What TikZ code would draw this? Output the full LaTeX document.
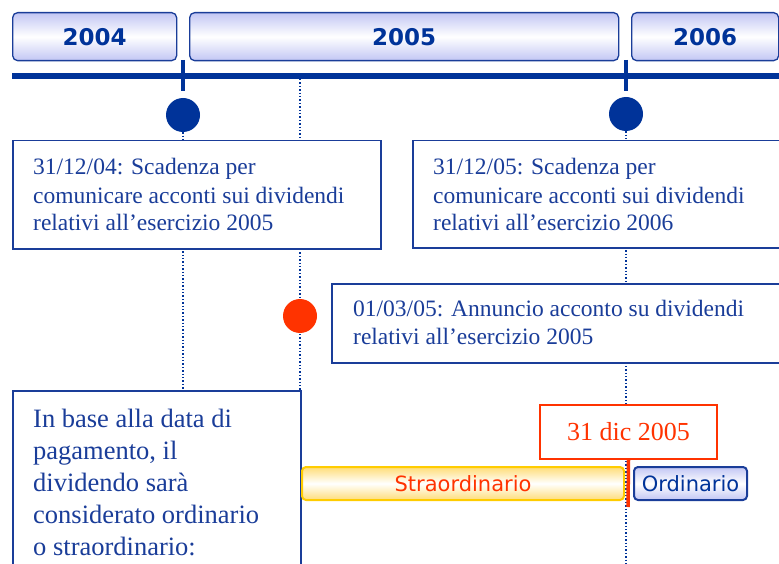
\documentclass[tikz,border=0pt]{standalone}
\usepackage{fontspec}
\setmainfont{Liberation Serif}
\newfontfamily\verd{DejaVu Sans}
\definecolor{navy}{HTML}{003399}
\definecolor{txtblue}{HTML}{1A3D99}
\definecolor{lav}{HTML}{C2C6F4}
\definecolor{redc}{HTML}{FF3300}
\definecolor{yel}{HTML}{FFCC00}
\definecolor{yelf}{HTML}{FFDD77}
\begin{document}
\begin{tikzpicture}[x=1pt,y=-1pt,
  yearbox/.style={draw=txtblue, line width=1.3, rounded corners=5, top color=lav, bottom color=lav, middle color=white,
    text=navy, font=\verd\bfseries\fontsize{23}{23}\selectfont, inner sep=0, anchor=north west},
  infobox/.style={draw=txtblue, line width=1.5, fill=white, inner sep=0, anchor=north west},
  infotext/.style={text=txtblue, font=\fontsize{23.5}{28}\selectfont, align=left, anchor=base west, inner sep=0},
  vline/.style={navy, line width=1.4, dash pattern=on 1.4pt off 2pt},
  bluedot/.style={circle, fill=navy, minimum size=34, inner sep=0},
  reddot/.style={circle, fill=redc, minimum size=34, inner sep=0},
  tick/.style={navy, line width=4},
  barlabel/.style={font=\verd\fontsize{21}{21}\selectfont, inner sep=0, anchor=north west}
]
\useasboundingbox (0,0) rectangle (779,564);
\clip (0,0) rectangle (779,564);

% year boxes
\node[yearbox, minimum width=164, minimum height=48] (y04) at (12,12) {2004};
\node[yearbox, minimum width=429, minimum height=48] (y05) at (189,12) {2005};
\node[yearbox, minimum width=147, minimum height=48] (y06) at (631,12) {2006};

% timeline
\coordinate (tlS) at (12,76);
\coordinate (tlE) at (790,76);
\draw[navy, line width=6] (tlS) -- (tlE);

% ticks
\coordinate (k1a) at (183,60); \coordinate (k1b) at (183,91);
\coordinate (k2a) at (626,60); \coordinate (k2b) at (626,91);
\draw[tick] (k1a) -- (k1b);
\draw[tick] (k2a) -- (k2b);

% dots (positions)
\node[bluedot] (d1) at (183,115) {};
\node[bluedot] (d2) at (626,114) {};

% dotted lines
\coordinate (v1e) at (183,390);
\coordinate (v2s) at (300,79);
\coordinate (v2e) at (300,570);
\coordinate (v3e) at (626,570);
\draw[vline] (d1) -- (v1e);
\draw[vline] (v2s) -- (v2e);
\draw[vline] (d2) -- (v3e);

% info boxes
\node[infobox, minimum width=368, minimum height=108] (b1) at (12,140) {};
\node[infotext] (t1) at (33,231) {31/12/04: Scadenza per\\comunicare acconti sui dividendi\\relativi all’esercizio 2005};

\node[infobox, minimum width=380, minimum height=107] (b2) at (412,140) {};
\node[infotext] (t2) at (433,231) {31/12/05: Scadenza per\\comunicare acconti sui dividendi\\relativi all’esercizio 2006};

\node[reddot] (d3) at (300,316) {};
\node[infobox, minimum width=460, minimum height=79] (b3) at (331,283) {};
\node[infotext] (t3) at (353,344) {01/03/05: Annuncio acconto su dividendi\\relativi all’esercizio 2005};

\node[infobox, minimum width=288, minimum height=200] (b4) at (12,390) {};
\node[infotext, font=\fontsize{26.5}{32}\selectfont] (t4) at (33,555) {In base alla data di\\pagamento, il\\dividendo sarà\\considerato ordinario\\o straordinario:};

% 31 dic 2005
\node[draw=redc, line width=2, fill=white, text=redc, font=\fontsize{26}{26}\selectfont, minimum width=177, minimum height=54, inner sep=0, anchor=north west] (dic) at (539,404) {31 dic 2005};
\coordinate (rbE) at (628,507);
\draw[redc, line width=3.5] (dic.south) -- (rbE);

% bars
\node[barlabel, draw=yel, line width=2, rounded corners=4, top color=yelf, bottom color=yelf, middle color=white,
  text=redc, minimum width=322, minimum height=33] (str) at (301,466) {Straordinario};
\node[barlabel, draw=txtblue, line width=2, rounded corners=4, top color=lav, bottom color=lav, middle color=white,
  text=navy, minimum width=113, minimum height=33] (ord) at (633,466) {Ordinario};
\end{tikzpicture}
\end{document}
